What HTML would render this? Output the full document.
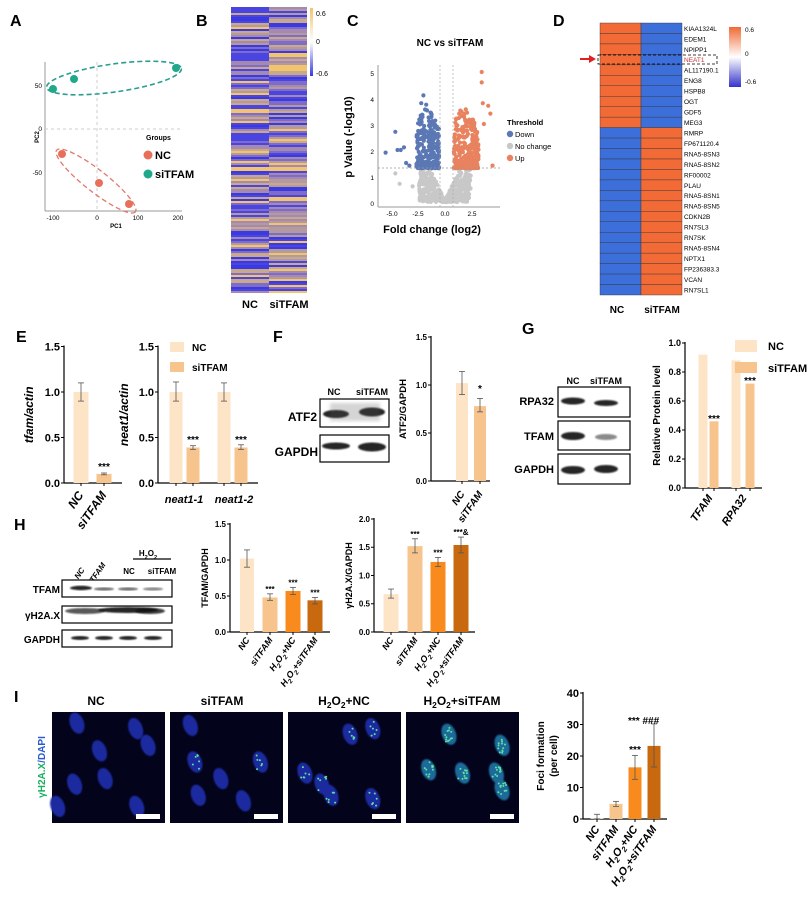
<!DOCTYPE html>
<html><head><meta charset="utf-8"><style>
html,body{margin:0;padding:0;background:#fff;}
svg{display:block;font-family:"Liberation Sans",Arial,sans-serif;}
</style></head><body>
<svg id="s" width="811" height="901" viewBox="0 0 811 901" xmlns="http://www.w3.org/2000/svg">
<defs>
<linearGradient id="cbB" x1="0" y1="0" x2="0" y2="1"><stop offset="0" stop-color="#f2c46e"/><stop offset="0.5" stop-color="#ffffff"/><stop offset="1" stop-color="#3a3ae0"/></linearGradient>
<linearGradient id="cbD" x1="0" y1="0" x2="0" y2="1"><stop offset="0" stop-color="#f06a35"/><stop offset="0.5" stop-color="#ffffff"/><stop offset="1" stop-color="#3333cc"/></linearGradient>
<filter id="bl"><feGaussianBlur stdDeviation="0.8"/></filter>
<filter id="bl2"><feGaussianBlur stdDeviation="1.5"/></filter>
</defs>
<g font-weight="bold" font-size="16" fill="#000">
<text x="10" y="26">A</text><text x="196" y="26">B</text><text x="347" y="26">C</text><text x="553" y="26">D</text>
<text x="16" y="342">E</text><text x="273" y="342">F</text><text x="522" y="334">G</text><text x="14" y="530">H</text><text x="14" y="702">I</text>
</g>
</svg>
<script>
var S=document.getElementById('s'),NS='http://www.w3.org/2000/svg';
function el(t,a,txt,p){var e=document.createElementNS(NS,t);for(var k in a)e.setAttribute(k,a[k]);if(txt!=null)e.textContent=txt;(p||S).appendChild(e);return e;}
var seed=12345;function rnd(){seed=(seed*1103515245+12345)%2147483648;return seed/2147483648;}
// ---------- A: PCA
el('line',{x1:45,y1:62,x2:45,y2:211,stroke:'#999','stroke-width':1});
el('line',{x1:45,y1:211,x2:182,y2:211,stroke:'#999','stroke-width':1});
el('line',{x1:97,y1:62,x2:97,y2:211,stroke:'#ccc','stroke-dasharray':'3,3'});
el('line',{x1:45,y1:129,x2:182,y2:129,stroke:'#ccc','stroke-dasharray':'3,3'});
[[53,'-100'],[97,'0'],[138,'100'],[178,'200']].forEach(function(t){el('text',{x:t[0],y:220,'font-size':6.5,'text-anchor':'middle'},t[1]);});
[[88,'50'],[131,'0'],[175,'-50']].forEach(function(t){el('text',{x:42,y:t[0],'font-size':6.5,'text-anchor':'end'},t[1]);});
el('text',{x:116,y:228,'font-size':6,'font-weight':'bold','text-anchor':'middle'},'PC1');
el('text',{x:0,y:0,'font-size':6,'font-weight':'bold','text-anchor':'middle',transform:'translate(39,137) rotate(-90)'},'PC2');
el('ellipse',{cx:114,cy:78,rx:68,ry:14,fill:'none',stroke:'#2a9d8f','stroke-width':1.6,'stroke-dasharray':'5,3',transform:'rotate(-8 114 78)'});
el('ellipse',{cx:96,cy:181,rx:50,ry:11,fill:'none',stroke:'#e07a6a','stroke-width':1.3,'stroke-dasharray':'5,3',transform:'rotate(38 96 181)'});
[[53,89],[74,79],[176,68]].forEach(function(p){el('circle',{cx:p[0],cy:p[1],r:4,fill:'#1fa88a'});});
[[62,154],[99,183],[129,204]].forEach(function(p){el('circle',{cx:p[0],cy:p[1],r:4,fill:'#e8705a'});});
el('text',{x:146,y:140,'font-size':7,'font-weight':'bold'},'Groups');
el('circle',{cx:148,cy:155,r:4.5,fill:'#e8705a'});el('text',{x:155,y:159,'font-size':11,'font-weight':'bold'},'NC');
el('circle',{cx:148,cy:174,r:4.5,fill:'#1fa88a'});el('text',{x:155,y:178,'font-size':11,'font-weight':'bold'},'siTFAM');
// ---------- B heatmap
var pal=['#f2c46e','#c9a98e','#a48ab0','#7e6cc8','#4a44e0','#3a3ae0','#b39a9e'];
for(var y=7;y<292;y+=2){for(var c=0;c<2;c++){var col=pal[Math.floor(rnd()*pal.length)];el('rect',{x:c?269:231,y:y,width:38,height:2,fill:col});}}
el('rect',{x:310,y:8,width:3,height:68,fill:'url(#cbB)'});
el('text',{x:316,y:16,'font-size':7},'0.6');el('text',{x:316,y:44,'font-size':7},'0');el('text',{x:316,y:76,'font-size':7},'-0.6');
el('text',{x:250,y:308,'font-size':11,'font-weight':'bold','text-anchor':'middle'},'NC');
el('text',{x:289,y:308,'font-size':11,'font-weight':'bold','text-anchor':'middle'},'siTFAM');
// ---------- C volcano
el('text',{x:450,y:46,'font-size':10,'font-weight':'bold','text-anchor':'middle'},'NC vs siTFAM');
el('line',{x1:378,y1:65,x2:378,y2:207,stroke:'#999'});el('line',{x1:378,y1:207,x2:500,y2:207,stroke:'#999'});
for(var i=0;i<=5;i++){el('text',{x:374,y:204-i*26+2,'font-size':6.5,'text-anchor':'end'},''+i);}
[[392,'-5.0'],[418,'-2.5'],[445,'0.0'],[472,'2.5']].forEach(function(t){el('text',{x:t[0],y:216,'font-size':6.5,'text-anchor':'middle'},t[1]);});
function VX(v){return 445+v*10.8;}function VY(v){return 202-v*26;}
for(i=0;i<450;i++){var xv=(rnd()*2-1)*2.4;var yv=rnd()*Math.min(1.3,Math.abs(xv)*0.9+0.05);el('circle',{cx:VX(xv),cy:VY(yv),r:2.1,fill:'#c8c8c8'});}
[[-4.6,1.1],[-4.2,0.7],[-3.0,0.6]].forEach(function(p){el('circle',{cx:VX(p[0]),cy:VY(p[1]),r:2.1,fill:'#c8c8c8'});});
for(i=0;i<260;i++){var r=rnd();xv=-0.55-rnd()*2.1;yv=1.3+Math.pow(r,1.8)*2.5*(1-Math.abs(xv+1.7)/3);el('circle',{cx:VX(xv),cy:VY(yv),r:2.1,fill:'#5b78b5'});}
[[-5.5,1.9],[-4.6,2.7],[-4.4,2.0],[-4.1,2.0],[-3.8,2.1],[-3.6,1.5],[-3.3,1.4],[-2.0,4.1],[-2.2,3.8]].forEach(function(p){el('circle',{cx:VX(p[0]),cy:VY(p[1]),r:2.1,fill:'#5b78b5'});});
for(i=0;i<280;i++){r=rnd();xv=0.8+rnd()*2.3;yv=1.3+Math.pow(r,1.8)*2.6*(1-Math.abs(xv-1.8)/3);el('circle',{cx:VX(xv),cy:VY(yv),r:2.1,fill:'#e8825f'});}
[[3.4,5.0],[3.4,4.6],[3.5,3.8],[4.0,3.7],[4.2,3.4],[3.6,3.0],[4.4,1.4],[2.1,3.1],[2.4,2.9]].forEach(function(p){el('circle',{cx:VX(p[0]),cy:VY(p[1]),r:2.1,fill:'#e8825f'});});
el('line',{x1:378,y1:168,x2:500,y2:168,stroke:'#999','stroke-dasharray':'2,2','stroke-width':0.7});
el('line',{x1:440,y1:65,x2:440,y2:207,stroke:'#aaa','stroke-dasharray':'2,2','stroke-width':0.7});
el('line',{x1:453,y1:65,x2:453,y2:207,stroke:'#aaa','stroke-dasharray':'2,2','stroke-width':0.7});
el('text',{x:432,y:233,'font-size':11,'font-weight':'bold','text-anchor':'middle'},'Fold change (log2)');
el('text',{x:0,y:0,'font-size':11,'font-weight':'bold','text-anchor':'middle',transform:'translate(352,137) rotate(-90)'},'p Value (-log10)');
el('text',{x:507,y:125,'font-size':7.5,'font-weight':'bold'},'Threshold');
[['#5b78b5','Down',134],['#c8c8c8','No change',146],['#e8825f','Up',158]].forEach(function(t){el('circle',{cx:510,cy:t[2],r:3.2,fill:t[0]});el('text',{x:515,y:t[2]+3,'font-size':7.5},t[1]);});
// ---------- D heatmap
var genes=['KIAA1324L','EDEM1','NPIPP1','NEAT1','AL117190.1','ENG8','HSPB8','OGT','GDF5','MEG3','RMRP','FP671120.4','RNA5-8SN3','RNA5-8SN2','RF00002','PLAU','RNA5-8SN1','RNA5-8SN5','CDKN2B','RN7SL3','RN7SK','RNA5-8SN4','NPTX1','FP236383.3','VCAN','RN7SL1'];
var rh=272/26;
genes.forEach(function(g,k){var y=23+k*rh;var up=k<10;el('rect',{x:600,y:y,width:41,height:rh,fill:up?'#f26a36':'#3d6fda',stroke:'#333','stroke-width':0.4});el('rect',{x:641,y:y,width:41,height:rh,fill:up?'#3d6fda':'#f26a36',stroke:'#333','stroke-width':0.4});el('text',{x:684,y:y+rh*0.75,'font-size':6.5,fill:k==3?'#c33':'#000'},g);});
el('rect',{x:598,y:55,width:119,height:9,fill:'none',stroke:'#000','stroke-width':0.8,'stroke-dasharray':'3,2'});
el('line',{x1:580,y1:59,x2:591,y2:59,stroke:'#e02020','stroke-width':2});el('polygon',{points:'596,59 589,55 589,63',fill:'#e02020'});
el('rect',{x:729,y:27,width:12,height:60,fill:'url(#cbD)'});
el('text',{x:745,y:32,'font-size':6.5},'0.6');el('text',{x:745,y:56,'font-size':6.5},'0');el('text',{x:745,y:84,'font-size':6.5},'-0.6');
el('text',{x:617,y:313,'font-size':10,'font-weight':'bold','text-anchor':'middle'},'NC');
el('text',{x:662,y:313,'font-size':10,'font-weight':'bold','text-anchor':'middle'},'siTFAM');
// ---------- bar chart helpers
var C1='#fde4c6',C2='#f7c48e',C3='#f98b1e',C4='#c8690f';
function axis(o){el('line',{x1:o.x,y1:o.y0,x2:o.x,y2:o.y0-o.top*o.u-1,stroke:'#000','stroke-width':1.2});el('line',{x1:o.x,y1:o.y0,x2:o.x2,y2:o.y0,stroke:'#000','stroke-width':1.2});
o.ticks.forEach(function(t){var y=o.y0-t*o.u;el('line',{x1:o.x-3,y1:y,x2:o.x,y2:y,stroke:'#000'});el('text',{x:o.x-4,y:y+o.fs*0.35,'font-size':o.fs,'font-weight':'bold','text-anchor':'end'},o.fmt?o.fmt(t):t.toFixed(1));});
if(o.yl)el('text',{x:0,y:0,'font-size':o.ylfs||10,'font-weight':'bold','font-style':o.it?'italic':'normal','text-anchor':'middle',transform:'translate('+o.ylx+','+(o.y0-o.top*o.u/2)+') rotate(-90)'},o.yl);}
function bar(o,cx,w,v,col,e,star,sy){var y=o.y0-v*o.u;el('rect',{x:cx-w/2,y:y,width:w,height:v*o.u,fill:col});
if(e){el('line',{x1:cx,y1:o.y0-e[0]*o.u,x2:cx,y2:o.y0-e[1]*o.u,stroke:'#555','stroke-width':0.8});[e[0],e[1]].forEach(function(q){el('line',{x1:cx-3,y1:o.y0-q*o.u,x2:cx+3,y2:o.y0-q*o.u,stroke:'#555','stroke-width':0.8});});}
el('line',{x1:cx,y1:o.y0,x2:cx,y2:o.y0+3,stroke:'#000'});
if(star)el('text',{x:cx,y:sy||(o.y0-(e?e[1]:v)*o.u-2),'font-size':o.sfs||10,'font-weight':'bold','text-anchor':'middle'},star);}
function xl(cx,y,t,fs,it){var g=el('text',{x:0,y:0,'font-size':fs,'font-weight':'bold','font-style':it?'italic':'normal','text-anchor':'end',transform:'translate('+(cx+3)+','+y+') rotate(-55)'});if(typeof t=='string')g.textContent=t;else t(g);return g;}
function h2o2(g,rest){el('tspan',{},'H',g);el('tspan',{'font-size':'70%',dy:3},'2',g);el('tspan',{dy:-3},'O',g);el('tspan',{'font-size':'70%',dy:3},'2',g);el('tspan',{dy:-3},rest,g);}
// E1
var e1={x:64,x2:122,y0:483,u:91,top:1.5,ticks:[0,0.5,1,1.5],fs:11,yl:'tfam/actin',ylx:33,it:1,ylfs:12};axis(e1);
bar(e1,81,15,1.0,C1,[0.9,1.1]);bar(e1,104,15,0.1,C2,[0.09,0.11],'***',470);
xl(81,495,'NC',12,1);xl(104,495,'siTFAM',12,1);
// E2
var e2={x:158,x2:258,y0:483,u:91,top:1.5,ticks:[0,0.5,1,1.5],fs:11,yl:'neat1/actin',ylx:128,it:1,ylfs:12};axis(e2);
bar(e2,176,13,1.0,C1,[0.9,1.11]);bar(e2,193,13,0.39,C2,[0.37,0.41],'***',443);
bar(e2,224,13,1.0,C1,[0.9,1.1]);bar(e2,241,13,0.39,C2,[0.37,0.42],'***',443);
el('rect',{x:170,y:342,width:14,height:10,fill:C1});el('text',{x:192,y:351,'font-size':10,'font-weight':'bold'},'NC');
el('rect',{x:170,y:362,width:14,height:10,fill:C2});el('text',{x:192,y:371,'font-size':10,'font-weight':'bold'},'siTFAM');
el('text',{x:184,y:503,'font-size':11,'font-weight':'bold','font-style':'italic','text-anchor':'middle'},'neat1-1');
el('text',{x:234,y:503,'font-size':11,'font-weight':'bold','font-style':'italic','text-anchor':'middle'},'neat1-2');
// blots
function blot(x,y,w,h,bands){el('rect',{x:x,y:y,width:w,height:h,fill:'#fff',stroke:'#000','stroke-width':1.2});bands.forEach(function(b){el('ellipse',{cx:b[0],cy:b[1],rx:b[2],ry:b[3],fill:'#111','fill-opacity':b[4]||0.9,filter:'url(#bl)'});});}
// F
el('text',{x:334,y:395,'font-size':9,'font-weight':'bold','text-anchor':'middle'},'NC');el('text',{x:372,y:395,'font-size':9,'font-weight':'bold','text-anchor':'middle'},'siTFAM');
blot(320,399,69,28,[[336,414,13,4],[372,412,13,4.5]]);el('rect',{x:330,y:403,width:50,height:18,fill:'#555','fill-opacity':0.25,filter:'url(#bl2)'});
blot(320,435,69,27,[[336,446,14,3.5],[372,447,14,4.5]]);
el('text',{x:317,y:421,'font-size':12,'font-weight':'bold','text-anchor':'end'},'ATF2');el('text',{x:318,y:456,'font-size':12,'font-weight':'bold','text-anchor':'end'},'GAPDH');
var f={x:431,x2:490,y0:481,u:96,top:1.5,ticks:[0,0.5,1,1.5],fs:8,yl:'ATF2/GAPDH',ylx:406,ylfs:9.5};axis(f);
bar(f,462,12,1.02,C1,[0.9,1.14]);bar(f,480,12,0.78,C2,[0.72,0.86],'*',392);
xl(462,494,'NC',10,1);xl(480,494,'siTFAM',10,1);
// G
el('text',{x:573,y:384,'font-size':9,'font-weight':'bold','text-anchor':'middle'},'NC');el('text',{x:606,y:384,'font-size':9,'font-weight':'bold','text-anchor':'middle'},'siTFAM');
blot(558,387,72,30,[[573,401,12,3.5],[606,403,12,3]]);
blot(558,421,72,29,[[573,436,12,4],[606,437,11,3,0.5]]);
blot(558,454,72,30,[[573,470,12,4],[606,469,12,4]]);
el('text',{x:554,y:405,'font-size':11,'font-weight':'bold','text-anchor':'end'},'RPA32');el('text',{x:554,y:440,'font-size':11,'font-weight':'bold','text-anchor':'end'},'TFAM');el('text',{x:554,y:473,'font-size':11,'font-weight':'bold','text-anchor':'end'},'GAPDH');
var g={x:685,x2:762,y0:488,u:145,top:1.0,ticks:[0,0.2,0.4,0.6,0.8,1.0],fs:9,yl:'Relative Protein level',ylx:660,ylfs:10};axis(g);
bar(g,703,9,0.92,C1);bar(g,714,9,0.46,C2,null,'***',422);bar(g,736,9,0.88,C1);bar(g,750,9,0.72,C2,null,'***',384);
el('rect',{x:735,y:340,width:22,height:12,fill:C1});el('text',{x:768,y:350,'font-size':11,'font-weight':'bold'},'NC');
el('rect',{x:735,y:362,width:22,height:11,fill:C2});el('text',{x:768,y:372,'font-size':11,'font-weight':'bold'},'siTFAM');
xl(710,498,'TFAM',11,1);xl(744,498,'RPA32',11,1);
// H blots
xl(82,570,'NC',8,1);xl(103,565,'siTFAM',8,1);
var hh=el('text',{x:148,y:556,'font-size':8,'font-weight':'bold','text-anchor':'middle'});h2o2(hh,'');
el('line',{x1:133,y1:559,x2:171,y2:559,stroke:'#000','stroke-width':1.2});
el('text',{x:129,y:574,'font-size':8,'font-weight':'bold','text-anchor':'middle'},'NC');el('text',{x:162,y:574,'font-size':8,'font-weight':'bold','text-anchor':'middle'},'siTFAM');
blot(62,580,110,17,[[81,588,11,2.2],[104,589,10,1.6,0.6],[128,589,10,1.6,0.6],[153,589,10,1.6,0.5]]);
blot(62,606,110,17,[[85,611,20,3,0.7],[128,610,30,3,0.9],[150,611,15,3,0.8]]);
blot(62,630,110,17,[[80,638,9,2],[104,638,9,2],[128,638,9,2],[153,638,9,2]]);
el('text',{x:60,y:593,'font-size':10,'font-weight':'bold','text-anchor':'end'},'TFAM');el('text',{x:60,y:619,'font-size':10,'font-weight':'bold','text-anchor':'end'},'γH2A.X');el('text',{x:60,y:643,'font-size':10,'font-weight':'bold','text-anchor':'end'},'GAPDH');
// H charts
var h1={x:230,x2:330,y0:632,u:72,top:1.5,ticks:[0,0.5,1,1.5],fs:8,yl:'TFAM/GAPDH',ylx:208,ylfs:9,sfs:8};axis(h1);
bar(h1,247,14,1.02,C1,[0.9,1.14]);bar(h1,270,15,0.48,C2,[0.44,0.53],'***');bar(h1,293,15,0.57,C3,[0.52,0.62],'***');bar(h1,315,15,0.44,C4,[0.39,0.48],'***');
var h2={x:374,x2:475,y0:632,u:56.5,top:2.0,ticks:[0,0.5,1,1.5,2],fs:8,yl:'γH2A.X/GAPDH',ylx:352,ylfs:9,sfs:8};axis(h2);
bar(h2,391,15,0.67,C1,[0.6,0.76]);bar(h2,415,15,1.52,C2,[1.4,1.65],'***');bar(h2,438,15,1.24,C3,[1.16,1.32],'***');bar(h2,461,15,1.54,C4,[1.4,1.68],'***&');
[h1,h2].forEach(function(o,k){var xs=k?[391,415,438,461]:[247,270,293,315];xl(xs[0],640,'NC',9,1);xl(xs[1],640,'siTFAM',9,1);xl(xs[2],640,function(e){h2o2(e,'+NC');},9,1);xl(xs[3],640,function(e){h2o2(e,'+siTFAM');},9,1);});
// I images
var tl=[[96,'NC'],[222,'siTFAM'],[344,null,'+NC'],[462,null,'+siTFAM']];
tl.forEach(function(t){var e=el('text',{x:t[0],y:705,'font-size':12,'font-weight':'bold','text-anchor':'middle'});if(t[1])e.textContent=t[1];else h2o2(e,t[2]);});
var px=[52,170,288,406];
var cells=[
[[0.22,0.1,0.12],[0.74,0.15,0.1],[0.42,0.35,0.1],[0.2,0.65,0.1],[0.47,0.6,0.1],[0.75,0.85,0.1],[0.05,0.85,0.1],[0.85,0.3,0.1]],
[[0.18,0.12,0.1],[0.22,0.45,0.14,1],[0.45,0.6,0.12],[0.8,0.45,0.12,1],[0.25,0.75,0.12],[0.65,0.8,0.12]],
[[0.55,0.2,0.12,1],[0.75,0.15,0.12,1],[0.15,0.55,0.12,1],[0.3,0.65,0.12,1],[0.38,0.75,0.12,1],[0.75,0.78,0.12,1]],
[[0.38,0.2,0.12,1],[0.85,0.3,0.14,1],[0.2,0.52,0.11,1],[0.5,0.55,0.12,1],[0.8,0.55,0.12,1],[0.85,0.7,0.14,1]]];
px.forEach(function(x0,k){el('rect',{x:x0,y:712,width:113,height:111,fill:'#03031c'});
cells[k].forEach(function(c){var cx=x0+c[0]*113,cy=712+c[1]*111;el('ellipse',{cx:cx,cy:cy,rx:7,ry:11,fill:k==3&&c[3]?'#1a6a9a':'#1c2aa0',filter:'url(#bl)',transform:'rotate(-20 '+cx+' '+cy+')'});
if(c[3]){for(var j=0;j<(k==3?12:6);j++){el('circle',{cx:cx+(rnd()-0.5)*9,cy:cy+(rnd()-0.5)*15,r:1,fill:'#5fe0a0'});}}});
el('rect',{x:x0+84,y:814,width:24,height:5,fill:'#fff'});});
var yl=el('text',{x:0,y:0,'font-size':10,'font-weight':'bold','text-anchor':'middle',transform:'translate(45,767) rotate(-90)'});
el('tspan',{fill:'#19b060'},'γH2A.X',yl);el('tspan',{fill:'#2a5ad0'},'/DAPI',yl);
// I chart
var ic={x:583,x2:667,y0:819,u:3.15,top:40,ticks:[0,10,20,30,40],fs:11,fmt:function(t){return ''+t;}};axis(ic);
el('text',{x:0,y:0,'font-size':10,'font-weight':'bold','text-anchor':'middle',transform:'translate(544,756) rotate(-90)'},'Foci formation');
el('text',{x:0,y:0,'font-size':10,'font-weight':'bold','text-anchor':'middle',transform:'translate(557,756) rotate(-90)'},'(per cell)');
bar(ic,597,13,0.2,C1,[0,1.5]);bar(ic,616,13,4.8,C2,[4,5.6]);bar(ic,635,13,16.4,C3,[12.6,20.2],'***',753);bar(ic,654,13,23.2,C4,[16.5,30.2]);
el('text',{x:628,y:724,'font-size':10,'font-weight':'bold'},'*** ###');
xl(597,829,'NC',11,1);xl(616,829,'siTFAM',11,1);xl(635,829,function(e){h2o2(e,'+NC');},11,1);xl(654,829,function(e){h2o2(e,'+siTFAM');},11,1);
</script>
</body></html>
